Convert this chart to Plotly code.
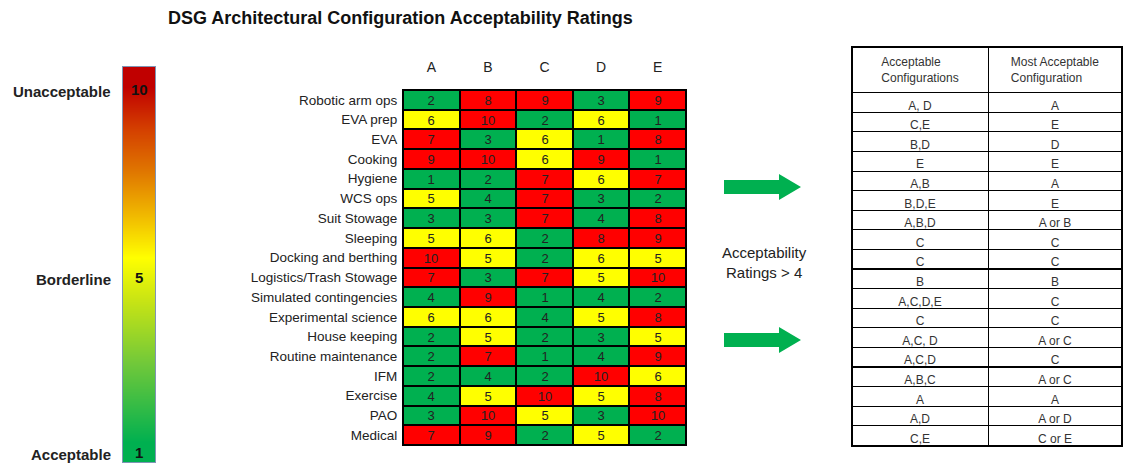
import plotly.graph_objects as go

W, H = 1125, 463


def px(x):
    return x / W


def py(y):
    return 1 - y / H


configs = ["A", "B", "C", "D", "E"]
activities = [
    "Robotic arm ops", "EVA prep", "EVA", "Cooking", "Hygiene", "WCS ops",
    "Suit Stowage", "Sleeping", "Docking and berthing", "Logistics/Trash Stowage",
    "Simulated contingencies", "Experimental science", "House keeping",
    "Routine maintenance", "IFM", "Exercise", "PAO", "Medical",
]
ratings = [
    [2, 8, 9, 3, 9],
    [6, 10, 2, 6, 1],
    [7, 3, 6, 1, 8],
    [9, 10, 6, 9, 1],
    [1, 2, 7, 6, 7],
    [5, 4, 7, 3, 2],
    [3, 3, 7, 4, 8],
    [5, 6, 2, 8, 9],
    [10, 5, 2, 6, 5],
    [7, 3, 7, 5, 10],
    [4, 9, 1, 4, 2],
    [6, 6, 4, 5, 8],
    [2, 5, 2, 3, 5],
    [2, 7, 1, 4, 9],
    [2, 4, 2, 10, 6],
    [4, 5, 10, 5, 8],
    [3, 10, 5, 3, 10],
    [7, 9, 2, 5, 2],
]
acceptable = ["A, D", "C,E", "B,D", "E", "A,B", "B,D,E", "A,B,D", "C", "C", "B",
              "A,C,D,E", "C", "A,C, D", "A,C,D", "A,B,C", "A", "A,D", "C,E"]
most_acceptable = ["A", "E", "D", "E", "A", "E", "A or B", "C", "C", "B", "C", "C",
                   "A or C", "C", "A or C", "A", "A or D", "C or E"]
table_header = ["Acceptable<br>Configurations", "Most Acceptable<br>Configuration"]

scale_values = [1, 2, 3, 4, 5, 6, 7, 8, 9, 10]
scale_labels = {10: "Unacceptable", 5: "Borderline", 1: "Acceptable"}
label_nudge = {10: -3, 5: 7, 1: -10}

GREEN, YELLOW, RED = "#00b050", "#ffff00", "#ff0000"
FONT = "Liberation Sans, Arial, sans-serif"

fig = go.Figure()

# main heatmap
lo, hi = (4.5 - 1) / 9, (6.5 - 1) / 9
fig.add_trace(go.Heatmap(
    z=ratings, x=configs, y=activities,
    zmin=1, zmax=10,
    colorscale=[[0, GREEN], [lo, GREEN], [lo, YELLOW], [hi, YELLOW], [hi, RED], [1, RED]],
    showscale=False, xgap=2, ygap=2,
    texttemplate="%{z}", textfont=dict(size=13, color="#222", family=FONT),
    hoverinfo="skip",
))

# gradient scale bar
fig.add_trace(go.Heatmap(
    z=[[v] for v in scale_values], y=scale_values, x=[0],
    xaxis="x2", yaxis="y2", zsmooth="best", showscale=False, hoverinfo="skip",
    zmin=1, zmax=10,
    colorscale=[[0, "#00b050"], [0.22, "#70c83a"], [0.4, "#c8e414"], [0.52, "#ffff00"],
                [0.64, "#f0b800"], [0.76, "#e07800"], [0.88, "#d44000"], [1, "#c00000"]],
))

# table
tx0, tx1, ty0, ty1 = 852, 1122, 47, 446
head_h, row_h = 44, 19.6
fig.add_trace(go.Table(
    domain=dict(x=[px(tx0), px(tx1)], y=[py(ty1 + 8), py(ty0)]),
    columnwidth=[136, 134],
    header=dict(values=table_header, height=head_h, align="center",
                fill_color="white", line=dict(color="black", width=1),
                font=dict(family=FONT, size=12, color="#333")),
    cells=dict(values=[acceptable, most_acceptable], height=row_h, align="center",
               fill_color="white", line=dict(color="black", width=1),
               font=dict(family=FONT, size=12, color="#333")),
))

annotations = []
for v, lab in scale_labels.items():
    annotations.append(dict(xref="paper", yref="y2", x=px(113), y=v, text=f"<b>{lab}</b>",
                            showarrow=False, xanchor="right", yanchor="middle",
                            yshift=label_nudge[v] - 2,
                            font=dict(family=FONT, size=15, color="#222")))
    annotations.append(dict(xref="x2", yref="y2", x=0, y=v, text=f"<b>{v}</b>",
                            showarrow=False, xanchor="center", yanchor="middle",
                            yshift=label_nudge[v],
                            font=dict(family=FONT, size=15, color="#111")))
annotations.append(dict(xref="paper", yref="paper", x=px(764), y=py(262),
                        xanchor="center", yanchor="middle",
                        text="Acceptability<br>Ratings > 4", showarrow=False,
                        font=dict(family=FONT, size=15, color="#222")))
annotations.append(dict(xref="paper", yref="paper", x=px(400), y=py(18),
                        xanchor="center", yanchor="middle",
                        text="<b>DSG Architectural Configuration Acceptability Ratings</b>",
                        showarrow=False, font=dict(family=FONT, size=18, color="#111")))


def arrow(x0, yc):
    # decorative arrow, pixel units converted to paper
    pts = [(x0, yc - 7), (x0 + 55, yc - 7), (x0 + 55, yc - 13), (x0 + 77, yc),
           (x0 + 55, yc + 13), (x0 + 55, yc + 7), (x0, yc + 7)]
    path = "M " + " L ".join(f"{px(a):.5f},{py(b):.5f}" for a, b in pts) + " Z"
    return dict(type="path", xref="paper", yref="paper", path=path,
                fillcolor="#00b050", line=dict(width=0))


shapes = [arrow(724, 187), arrow(724, 340),
          dict(type="rect", xref="paper", yref="paper", x0=px(tx0), x1=px(tx1),
               y0=py(ty1), y1=py(ty0), line=dict(color="black", width=2),
               fillcolor="rgba(0,0,0,0)")]

fig.update_layout(
    width=W, height=H, margin=dict(l=0, r=0, t=0, b=0),
    paper_bgcolor="white", plot_bgcolor="black",
    font=dict(family=FONT, size=13, color="#222"),
    xaxis=dict(domain=[px(403), px(686)], side="top", showgrid=False, zeroline=False,
               ticks="", ticklabelstandoff=11, showline=True, mirror=True,
               linecolor="black", linewidth=1, tickfont=dict(size=14)),
    yaxis=dict(domain=[py(445), py(90)], autorange="reversed", showgrid=False,
               zeroline=False, ticks="", ticklabelstandoff=2, showline=True, mirror=True,
               linecolor="black", linewidth=1, tickfont=dict(size=13.5)),
    xaxis2=dict(domain=[px(123), px(155)], anchor="y2", showticklabels=False, showgrid=False,
                zeroline=False, showline=True, mirror=True, linecolor="#7f95b5", linewidth=1,
                range=[-0.5, 0.5]),
    yaxis2=dict(domain=[py(462), py(67)], anchor="x2", showticklabels=False,
                showgrid=False, zeroline=False, showline=True, mirror=True,
                linecolor="#7f95b5", linewidth=1, range=[0.5, 10.5]),
    annotations=annotations,
    shapes=shapes,
)

fig.write_html(
    "out.html",
    config={"displayModeBar": False},
    post_script="document.body.style.margin='0';document.body.style.overflow='hidden';",
)
